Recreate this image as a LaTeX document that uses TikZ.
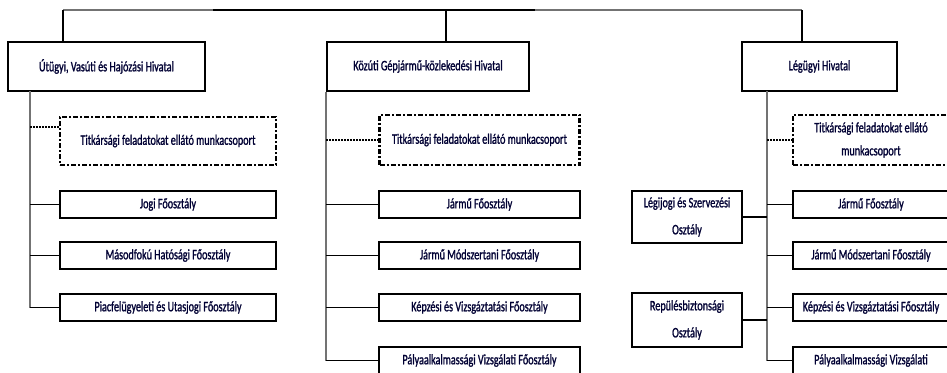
\documentclass[tikz,border=0pt]{standalone}
\usepackage{fontspec}
\newfontfamily\boxfont{Carlito}[FakeStretch=0.7,FakeBold=1.2]
\begin{document}
\begin{tikzpicture}[x=1pt,y=-1pt,
  box/.style={draw=black,line width=1.8pt,rectangle,inner sep=0pt,align=center,
    font=\boxfont\fontsize{14.5}{17}\selectfont,text=black!80!blue},
  dbox/.style={box,line width=2.2pt,dash pattern=on 5pt off 2pt on 2pt off 2pt},
  spine/.style={draw=black!55,line width=1.4pt},
  conn/.style={draw=black,line width=1.6pt},
  dconn/.style={draw=black,line width=1.3pt,dash pattern=on 2pt off 1pt},
  topl/.style={draw=black!55,line width=1.5pt}]
\clip (0,0) rectangle (947,372);
\fill[white] (0,0) rectangle (947,372);
% top level boxes
\node[box,minimum width=197pt,minimum height=49pt] (b1) at (106.5,66.5) {Útügyi, Vasúti és Hajózási Hivatal};
\node[box,minimum width=202pt,minimum height=49pt] (b2) at (428,66.5) {Közúti Gépjármű-közlekedési Hivatal};
\node[box,minimum width=155pt,minimum height=49pt] (b3) at (819.5,66.5) {Légügyi Hivatal};
% top line
\coordinate (t1) at (63,10);
\coordinate (t2) at (446,10);
\coordinate (t3) at (802,10);
\coordinate (ta) at (213,10);
\coordinate (tb) at (535,10);
\draw[topl] (t1) -- (ta);
\draw[conn] (ta) -- (tb);
\draw[topl] (tb) -- (t3);
\draw[conn] (t1) -- (t1 |- b1.north);
\draw[conn] (t2) -- (t2 |- b2.north);
\draw[conn] (t3) -- (t3 |- b3.north);
% column 1
\node[dbox,minimum width=216pt,minimum height=48pt] (k1) at (168,141) {Titkársági feladatokat ellátó munkacsoport};
\node[box,minimum width=216pt,minimum height=27pt] (c1a) at (168,204.5) {Jogi Főosztály};
\node[box,minimum width=216pt,minimum height=27pt] (c1b) at (168,255.5) {Másodfokú Hatósági Főosztály};
\node[box,minimum width=216pt,minimum height=27pt] (c1c) at (168,307.5) {Piacfelügyeleti és Utasjogi Főosztály};
\coordinate (s1) at (30,91);
\coordinate (k1d) at ([yshift=14pt]k1.west);
\draw[spine] (s1) |- (c1c.west);
\draw[dconn] (s1 |- k1d) -- (k1d);
\draw[conn] (s1 |- c1a.west) -- (c1a.west);
\draw[conn] (s1 |- c1b.west) -- (c1b.west);
\draw[conn] (s1 |- c1c.west) -- (c1c.west);
% column 2
\node[dbox,minimum width=200pt,minimum height=50pt] (k2) at (479.5,140) {Titkársági feladatokat ellátó munkacsoport};
\node[box,minimum width=201pt,minimum height=27pt] (c2a) at (479.5,204.5) {Jármű Főosztály};
\node[box,minimum width=201pt,minimum height=27pt] (c2b) at (479.5,255.5) {Jármű Módszertani Főosztály};
\node[box,minimum width=201pt,minimum height=27pt] (c2c) at (479.5,307.5) {Képzési és Vizsgáztatási Főosztály};
\node[box,minimum width=201pt,minimum height=27pt] (c2d) at (479.5,360.5) {Pályaalkalmassági Vizsgálati Főosztály};
\coordinate (s2) at (b2.south west);
\draw[spine] (s2) -- (s2 |- c2d.west);
\draw[dconn] (s2 |- k2.west) -- (k2.west);
\draw[conn] (s2 |- c2a.west) -- (c2a.west);
\draw[conn] (s2 |- c2b.west) -- (c2b.west);
\draw[conn] (s2 |- c2c.west) -- (c2c.west);
\draw[conn] (s2 |- c2d.west) -- (c2d.west);
% column 3
\node[dbox,minimum width=156pt,minimum height=50pt,
  font=\boxfont\fontsize{14.5}{23}\selectfont] (k3) at (871,140) {Titkársági feladatokat ellátó\\munkacsoport};
\node[box,minimum width=156pt,minimum height=27pt] (c3a) at (871,204.5) {Jármű Főosztály};
\node[box,minimum width=156pt,minimum height=27pt] (c3b) at (871,255.5) {Jármű Módszertani Főosztály};
\node[box,minimum width=156pt,minimum height=27pt] (c3c) at (871,307.5) {Képzési és Vizsgáztatási Főosztály};
\node[box,minimum width=156pt,minimum height=27pt] (c3d) at (871,360.5) {Pályaalkalmassági Vizsgálati};
\node[box,minimum width=110pt,minimum height=52pt,
  font=\boxfont\fontsize{14.5}{27}\selectfont] (l1) at (687,217) {Légijogi és Szervezési\\Osztály};
\node[box,minimum width=110pt,minimum height=54pt,
  font=\boxfont\fontsize{14.5}{27}\selectfont] (l2) at (687,320) {Repülésbiztonsági\\Osztály};
\coordinate (s3) at (767,91);
\draw[spine] (s3) -- (s3 |- c3d.west);
\draw[dconn] (s3 |- k3.west) -- (k3.west);
\draw[conn] (s3 |- c3a.west) -- (c3a.west);
\draw[conn] (s3 |- c3b.west) -- (c3b.west);
\draw[conn] (s3 |- c3c.west) -- (c3c.west);
\draw[conn] (s3 |- c3d.west) -- (c3d.west);
\draw[conn] (l1.east) -- (s3 |- l1.east);
\draw[conn] (l2.east) -- (s3 |- l2.east);
\end{tikzpicture}
\end{document}
